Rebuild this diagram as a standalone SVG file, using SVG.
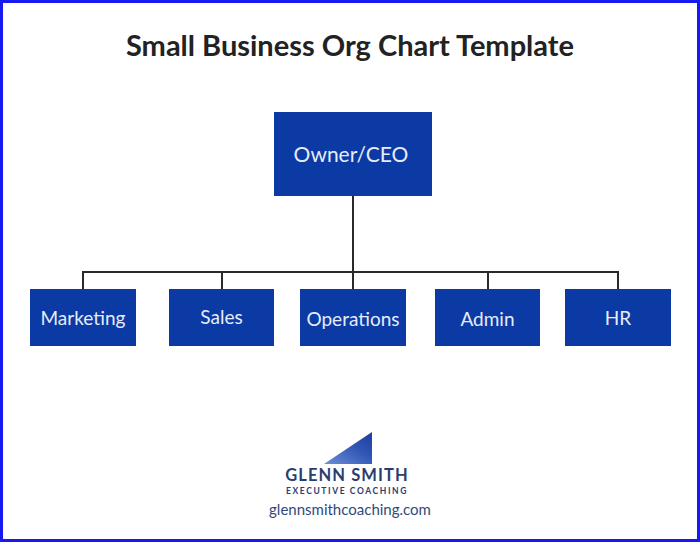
<svg xmlns="http://www.w3.org/2000/svg" width="700" height="542" viewBox="0 0 700 542">
<style>
.box{fill:#0b3aa5;}
.lbl{font-family:Lato,"Liberation Sans",sans-serif;font-weight:normal;fill:#e6ecf8;text-anchor:middle;}
.conn{stroke:#2a2a2a;stroke-width:2;fill:none;}
.logo{font-family:Lato,"Liberation Sans",sans-serif;font-weight:bold;fill:#2b3d70;text-anchor:middle;}
</style>
<defs>
<linearGradient id="tri" x1="0" y1="1" x2="1" y2="0">
<stop offset="0" stop-color="#6f8fd8"/>
<stop offset="0.6" stop-color="#2f55b5"/>
<stop offset="1" stop-color="#1b3f9e"/>
</linearGradient>
</defs>
<rect x="0" y="0" width="700" height="542" fill="#ffffff"/>
<rect x="1.5" y="1.5" width="697" height="539" fill="none" stroke="#1818f0" stroke-width="3"/>
<text x="350" y="56" font-family="Lato,'Liberation Sans',sans-serif" font-weight="bold" font-size="29" fill="#222222" text-anchor="middle">Small Business Org Chart Template</text>
<g id="connectors">
<path class="conn" d="M353 196 V290"/>
<path class="conn" d="M83 290 V272 H618 V290"/>
<path class="conn" d="M222 272 V290"/>
<path class="conn" d="M488 272 V290"/>
</g>
<g id="owner">
<rect class="box" x="274" y="112" width="158" height="84"/>
<text class="lbl" x="351" y="162" font-size="21">Owner/CEO</text>
</g>
<g id="marketing">
<rect class="box" x="30" y="289" width="106" height="57"/>
<text class="lbl" x="83" y="325" font-size="19">Marketing</text>
</g>
<g id="sales">
<rect class="box" x="169" y="289" width="105" height="57"/>
<text class="lbl" x="221.5" y="324" font-size="19">Sales</text>
</g>
<g id="operations">
<rect class="box" x="300" y="289" width="106" height="57"/>
<text class="lbl" x="353" y="326" font-size="19">Operations</text>
</g>
<g id="admin">
<rect class="box" x="435" y="289" width="105" height="57"/>
<text class="lbl" x="487.5" y="326" font-size="19">Admin</text>
</g>
<g id="hr">
<rect class="box" x="565" y="289" width="106" height="57"/>
<text class="lbl" x="618" y="325" font-size="19">HR</text>
</g>
<g id="logo">
<polygon points="324,464 372,432 372,464" fill="url(#tri)"/>
<text class="logo" x="347" y="481" font-size="16.5" letter-spacing="1.1">GLENN SMITH</text>
<text class="logo" x="347" y="493.5" font-size="8.5" letter-spacing="1.6">EXECUTIVE COACHING</text>
<text x="350" y="515" font-family="Lato,'Liberation Sans',sans-serif" font-size="15" fill="#2f4a80" text-anchor="middle">glennsmithcoaching.com</text>
</g>
</svg>
